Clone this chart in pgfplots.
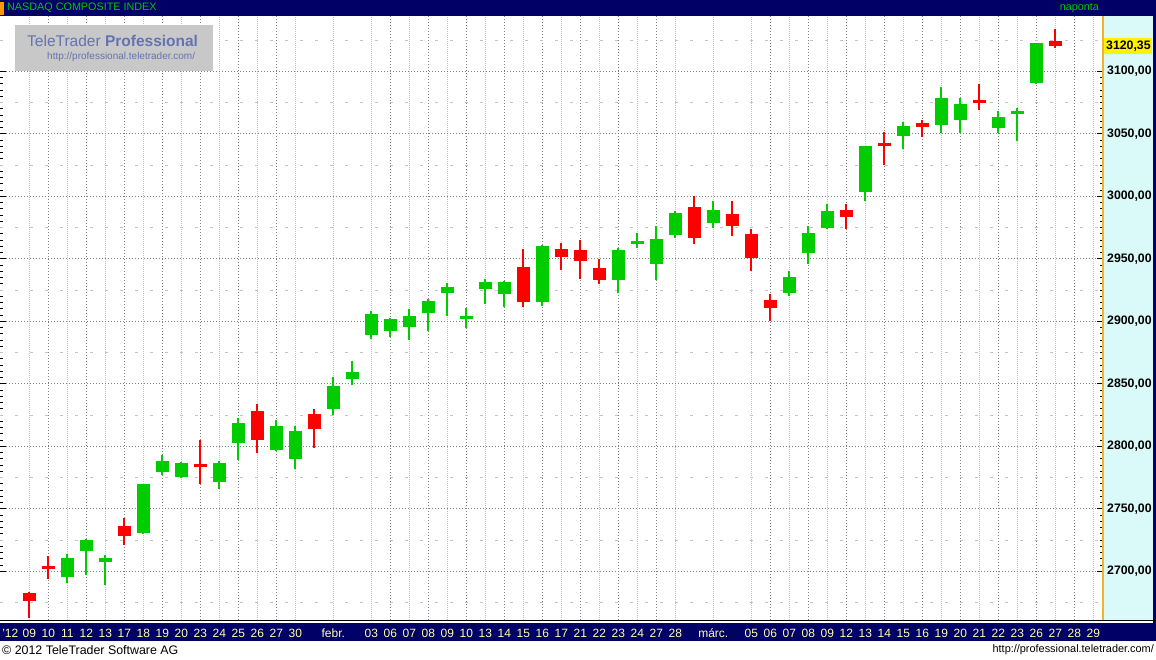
\documentclass[border=0pt]{standalone}
\usepackage{fontspec}
\setmainfont{Liberation Sans}
\usepackage{pgfplots}
\usepackage{pgfplotstable}
\pgfplotsset{compat=1.18}

\definecolor{navy}{RGB}{0,0,102}
\definecolor{upgreen}{RGB}{0,204,0}
\definecolor{downred}{RGB}{255,0,0}
\definecolor{hdrgreen}{RGB}{0,200,0}
\definecolor{datefg}{RGB}{255,255,170}
\definecolor{panel}{RGB}{218,250,250}
\definecolor{gridd}{RGB}{128,128,128}
\definecolor{gridl}{RGB}{195,195,195}
\definecolor{wmbox}{RGB}{200,200,200}
\definecolor{wmtext}{RGB}{100,115,178}
\definecolor{rline}{RGB}{240,180,40}
\definecolor{tagorange}{RGB}{255,150,0}

% slot i = trading day (0 = 2012-01-06), open high low close
\pgfplotstableread{
i  o       h       l       c
3  2695.4  2713.8  2690.6  2710.8
4  2716.2  2725.8  2697.0  2724.7
5  2707.7  2713.0  2689.0  2710.7
7  2730.6  2770.0  2729.8  2769.7
8  2779.4  2793.0  2777.0  2788.3
9  2775.4  2787.4  2774.6  2786.7
11 2771.4  2788.2  2765.8  2786.6
12 2802.6  2822.6  2789.0  2818.3
14 2797.0  2821.0  2796.2  2816.6
15 2789.8  2816.2  2781.8  2811.9
17 2829.8  2855.4  2825.0  2848.3
18 2853.8  2868.2  2849.0  2859.7
19 2889.0  2908.2  2885.8  2905.7
20 2892.2  2902.6  2887.4  2902.0
21 2895.4  2909.8  2885.0  2904.1
22 2906.6  2917.8  2892.2  2915.9
23 2922.6  2930.6  2904.2  2927.2
24 2902.1  2910.6  2894.9  2903.9
25 2925.8  2933.8  2913.8  2931.4
26 2921.8  2932.2  2911.4  2931.8
28 2915.4  2961.0  2912.2  2959.9
32 2933.0  2958.6  2922.6  2957.0
33 2962.1  2970.6  2958.6  2963.8
34 2945.8  2976.2  2933.0  2966.2
35 2969.0  2988.2  2966.6  2986.8
37 2978.6  2996.2  2974.6  2989.0
41 2922.6  2940.2  2920.2  2935.7
42 2954.6  2976.2  2945.8  2970.4
43 2974.6  2993.8  2973.8  2988.3
45 3003.4  3040.2  2996.2  3039.9
47 3048.2  3059.4  3037.8  3056.4
49 3057.0  3087.4  3050.6  3078.3
50 3061.0  3078.6  3050.6  3074.2
52 3054.6  3068.2  3050.6  3063.3
53 3066.9  3070.6  3044.2  3067.9
54 3090.6  3122.6  3089.8  3122.6
}\up

\pgfplotstableread{
i  o       h       l       c
1  2682.6  2683.4  2662.6  2676.6
2  2704.3  2712.2  2693.8  2702.5
6  2736.2  2742.6  2721.0  2728.1
10 2785.8  2805.0  2769.8  2784.2
13 2828.2  2833.8  2794.6  2805.3
16 2825.8  2829.8  2798.6  2813.8
27 2943.4  2957.8  2911.4  2915.8
29 2957.8  2962.6  2941.0  2951.8
30 2957.0  2965.0  2933.8  2948.6
31 2942.6  2949.8  2929.8  2933.2
36 2991.4  3000.2  2961.8  2966.9
38 2985.8  2996.2  2968.2  2976.2
39 2969.8  2973.8  2940.2  2950.5
40 2917.0  2921.8  2900.2  2910.3
44 2989.0  2993.8  2973.8  2983.7
46 3041.8  3051.4  3025.0  3040.7
48 3058.6  3061.0  3047.4  3055.3
51 3077.0  3089.8  3069.0  3075.3
55 3124.2  3133.8  3118.6  3120.35
}\down

\begin{document}
\begin{tikzpicture}[x=1pt,y=1pt]
\useasboundingbox (0,0) rectangle (1156,659);
\fill[white] (0,0) rectangle (1156,659);
% header
\fill[navy] (0,643) rectangle (1156,659);
\fill[tagorange] (0,644) rectangle (4,657);
\node[anchor=west, inner sep=0pt, text=hdrgreen, font=\fontsize{10.8}{12}\selectfont] at (7,651) {NASDAQ COMPOSITE INDEX};
\node[anchor=east, inner sep=0pt, text=hdrgreen, font=\fontsize{10.8}{12}\selectfont] at (1099,651) {naponta};
% price panel on the right
\fill[panel] (1103,38) rectangle (1153,643);
\fill[navy] (1153,18) rectangle (1156,643);
% date bar
\fill[navy] (0,18) rectangle (1156,36);
\draw[black, line width=1pt] (0,38.5) -- (1156,38.5);
% footer
\node[anchor=west, inner sep=0pt, font=\fontsize{12.4}{13}\selectfont] at (2,9) {© 2012 TeleTrader Software AG};
\node[anchor=east, inner sep=0pt, font=\fontsize{10.9}{12}\selectfont] at (1154,9) {http://professional.teletrader.com/};

\begin{axis}[
  at={(0pt,39pt)}, anchor=south west,
  width=1103pt, height=604pt, scale only axis,
  xmin=-0.5421, xmax=57.51, ymin=2661.04, ymax=3144.24,
  axis line style={draw=none},
  tick align=inside, major tick length=6pt, minor tick length=3pt,
  tick style={black, line width=1pt},
  % dates
  xtick={0,1,2,3,4,5,6,7,8,9,10,11,12,13,14,15,17,19,20,21,22,23,24,25,26,27,28,29,30,31,32,33,34,35,37,39,40,41,42,43,44,45,46,47,48,49,50,51,52,53,54,55,56,57},
  xticklabels={'12,09,10,11,12,13,17,18,19,20,23,24,25,26,27,30,febr.,03,06,07,08,09,10,13,14,15,16,17,21,22,23,24,27,28,márc.,05,06,07,08,09,12,13,14,15,16,19,20,21,22,23,26,27,28,29},
  xtick style={draw=none},
  xticklabel style={anchor=base, inner sep=0pt, yshift=-17.5pt, text=datefg, font=\fontsize{12}{12}\selectfont},
  minor xtick={1,3,...,57},
  minor x tick style={draw=none},
  xmajorgrids=false, xminorgrids=true,
  minor x grid style={gridl, line width=1pt, dash pattern=on 1pt off 1pt},
  extra x ticks={2,4,6,8,10,12,14,20,22,24,26,28,30,32,34,40,42,44,46,48,50,52,54,56},
  extra x tick labels={},
  extra x tick style={grid=major, major x grid style={gridd, line width=1pt, dash pattern=on 1pt off 2pt}, xtick style={draw=none}},
  % prices
  ytick={2700,2750,...,3100},
  minor y tick num=9,
  ytick pos=both, yticklabel pos=right,
  scaled y ticks=false,
  yticklabel style={anchor=west, inner sep=0pt, xshift=4pt, font=\fontsize{12.3}{12}\selectfont\bfseries,
    /pgf/number format/.cd, fixed, fixed zerofill, precision=2, use comma, 1000 sep={}, assume math mode=true},
  ymajorgrids=true,
  major y grid style={gridd, line width=1pt, dash pattern=on 1pt off 2pt},
  extra y ticks={2675,2725,...,3125},
  extra y tick labels={},
  extra y tick style={grid=major, major y grid style={gridl, line width=1pt, dash pattern=on 3pt off 12pt}, tick style={draw=none}},
  candle/.style={draw=none, mark=none, forget plot,
    error bars/.cd, y dir=both, y explicit, error mark=none},
]
% wicks
\addplot[candle, error bar style={draw=upgreen, line width=2pt}]
  table[x=i, y expr={(\thisrow{h}+\thisrow{l})/2}, y error expr={(\thisrow{h}-\thisrow{l})/2}] {\up};
\addplot[candle, error bar style={draw=downred, line width=2pt}]
  table[x=i, y expr={(\thisrow{h}+\thisrow{l})/2}, y error expr={(\thisrow{h}-\thisrow{l})/2}] {\down};
% bodies
\addplot[candle, error bar style={draw=upgreen, line width=13pt}]
  table[x=i, y expr={(\thisrow{o}+\thisrow{c})/2}, y error expr={max(abs(\thisrow{c}-\thisrow{o})/2,1.2)}] {\up};
\addplot[candle, error bar style={draw=downred, line width=13pt}]
  table[x=i, y expr={(\thisrow{o}+\thisrow{c})/2}, y error expr={max(abs(\thisrow{c}-\thisrow{o})/2,1.2)}] {\down};
\end{axis}

% right border line of the plot
\draw[rline, line width=1.5pt] (1103,39) -- (1103,643);
% watermark
\fill[wmbox] (15,588) rectangle (213,634);
\node[anchor=west, inner sep=0pt, text=wmtext, font=\fontsize{15.5}{16}\selectfont] at (27,618) {TeleTrader \textbf{Professional}};
\node[anchor=west, inner sep=0pt, text=wmtext, font=\fontsize{10}{11}\selectfont] at (47,602) {http://professional.teletrader.com/};
% last price tag
\fill[yellow] (1103.8,605) rectangle (1152,621);
\node[anchor=west, inner sep=0pt, font=\fontsize{12.3}{12}\selectfont\bfseries] at (1106,613) {3120,35};
\end{tikzpicture}
\end{document}
